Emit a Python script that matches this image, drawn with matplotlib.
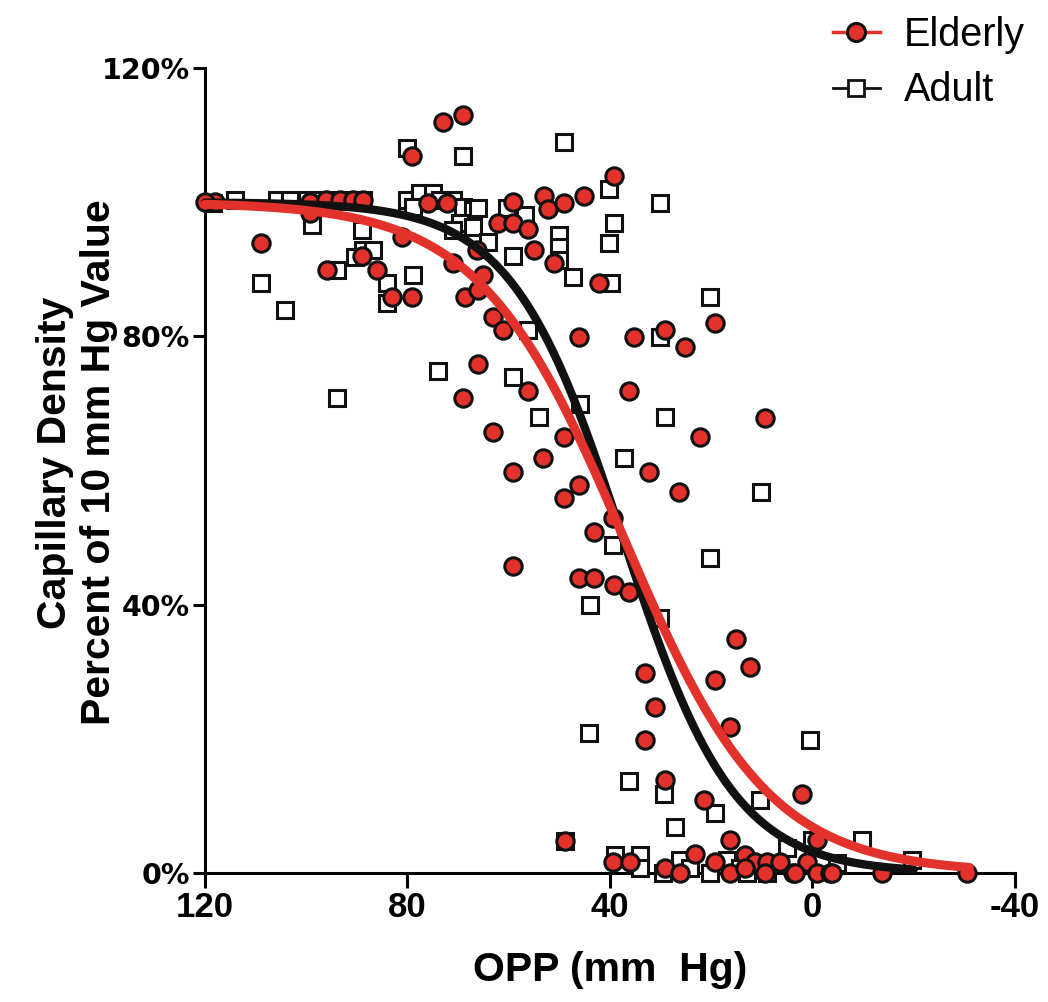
import numpy as np
import matplotlib
matplotlib.use('Agg')
import matplotlib.pyplot as plt
from matplotlib.lines import Line2D
from matplotlib.ticker import PercentFormatter

plt.rcParams['font.family'] = ['Liberation Sans', 'DejaVu Sans']
plt.rcParams['axes.unicode_minus'] = False

RED = '#e3312b'

# Elderly points: OPP (mm Hg), capillary density (% of 10 mm Hg value)
elderly_x = [73.0, 69.0, 79.1, 39.2, 53.0, 52.2, 49.1, 45.1, 59.2, 62.1, 59.2, 56.2, 55.0,
             51.1, 42.2, 66.3, 65.1, 68.6, 66.1, 63.1, 61.1, 46.1, 35.3, 29.1, 19.3, 25.2,
             108.9, 95.9, 89.0, 86.0, 83.1, 79.1, 76.0, 72.2, 118.0, 99.3, 96.0, 93.3, 90.8,
             88.8, 99.3, 81.1, 71.0, 66.1, 69.0, 63.1, 56.2, 36.2, 9.4, 49.1, 22.2, 53.2,
             59.2, 32.3, 46.1, 49.1, 26.4, 39.4, 43.2, 59.2, 46.1, 43.2, 39.2, 36.2, 15.1,
             12.3, 19.3, 33.1, 31.1, 16.3, 33.1, 29.1, 21.4, 2.1, 48.9, 16.3, 23.2, 39.4,
             36.0, 29.1, 26.2, 19.3, 16.3, 13.3, 11.4, 13.3, 9.0, 6.4, 9.4, 3.9, 1.1, -0.9,
             -3.5, -0.9, 3.5, -3.9, -13.7, -30.5, 120.0]
elderly_y = [112.0, 113.0, 106.9, 103.9, 100.9, 99.0, 99.9, 100.9, 100.0, 96.9, 96.9, 96.0, 92.9,
             90.9, 88.0, 92.9, 89.1, 85.9, 86.9, 82.9, 80.9, 79.9, 79.9, 80.9, 82.0, 78.4,
             93.9, 89.9, 92.0, 89.9, 85.9, 85.9, 99.9, 99.9, 100.0, 100.0, 100.3, 100.3, 100.3,
             100.3, 98.4, 94.8, 90.9, 75.9, 70.8, 65.7, 71.9, 71.9, 67.8, 65.0, 65.0, 61.9,
             59.8, 59.8, 57.8, 55.9, 56.8, 52.9, 50.8, 45.8, 44.0, 44.0, 42.9, 41.9, 34.9,
             30.7, 28.8, 29.8, 24.7, 21.8, 19.8, 13.9, 10.9, 11.8, 4.8, 4.9, 2.8, 1.6,
             1.6, 0.7, 0.0, 1.6, 0.0, 2.7, 1.6, 0.7, 1.6, 1.6, 0.0, 0.0, 1.6, 0.0,
             0.0, 4.9, 0.0, 0.0, 0.0, 0.0, 100.0]

# Adult points
adult_x = [80.1, 69.0, 49.1, 118.4, 114.1, 105.8, 103.2, 99.9, 97.3, 93.9, 91.4, 88.8, 98.9,
           89.0, 88.8, 86.8, 90.4, 93.9, 108.9, 104.2, 84.0, 84.0, 78.9, 80.1, 77.5, 75.0,
           73.6, 71.0, 69.0, 67.1, 78.9, 69.6, 67.1, 71.0, 40.2, 30.1, 39.2, 40.2, 50.1,
           50.1, 50.1, 47.3, 39.8, 59.2, 64.1, 66.1, 60.3, 56.8, 20.2, 30.1, 56.2, 74.0,
           93.9, 59.2, 45.9, 54.0, 29.1, 37.2, 10.2, 39.4, 20.2, 44.0, 30.1, 44.1, 0.5,
           36.2, 29.3, 19.3, 10.4, 27.2, 39.0, 34.1, 34.1, 26.2, 24.2, 20.2, 16.9, 14.3,
           12.9, 9.0, 5.0, 29.5, -9.8, -19.7, -4.8, 0.1, 48.9]
adult_y = [108.1, 106.9, 109.0, 99.9, 100.3, 100.3, 100.3, 100.3, 100.3, 100.3, 100.3, 100.3, 96.6,
           95.9, 92.9, 92.9, 91.8, 89.9, 88.0, 83.9, 88.0, 85.0, 89.1, 100.3, 101.4, 101.4,
           100.3, 100.3, 99.3, 98.8, 99.3, 96.9, 96.3, 95.9, 102.0, 99.9, 96.9, 93.9, 95.1,
           93.3, 91.4, 88.8, 88.0, 92.0, 94.1, 99.1, 99.1, 98.1, 85.9, 79.9, 80.9, 74.8,
           70.8, 73.9, 69.9, 68.0, 68.0, 61.9, 56.8, 48.9, 47.0, 40.0, 38.0, 20.9, 19.8,
           13.7, 11.8, 8.9, 10.9, 6.9, 2.7, 2.7, 0.7, 1.9, 0.7, 0.0, 1.9, 0.7,
           0.0, 0.0, 3.7, 0.0, 4.9, 1.9, 1.5, 4.9, 4.8]

# sigmoid fits: midpoint (mm Hg), slope (mm Hg), x range of the drawn curve
elderly_fit = (37.3, 14.3, 120.0, -31.0)
adult_fit = (37.5, 11.0, 120.0, -20.0)


def sigmoid(fit):
    x0, s, xa, xb = fit
    xs = np.linspace(xa, xb, 400)
    return xs, 100.0 / (1.0 + np.exp(-(xs - x0) / s))


fig = plt.figure(figsize=(10.48, 10.02), dpi=100)
ax = fig.add_axes([0.1956, 0.1287, 0.7729, 0.8034])

ax.plot(adult_x, adult_y, linestyle='none', marker='s', markersize=11.5,
        markerfacecolor='white', markeredgecolor='#111111', markeredgewidth=2.2,
        clip_on=False, zorder=3)
ax.plot(elderly_x, elderly_y, linestyle='none', marker='o', markersize=12.5,
        markerfacecolor=RED, markeredgecolor='#111111', markeredgewidth=2.2,
        clip_on=False, zorder=4)

xs, ys = sigmoid(adult_fit)
ax.plot(xs, ys, color='#111111', linewidth=6, solid_capstyle='round', zorder=5, clip_on=False)
xs, ys = sigmoid(elderly_fit)
ax.plot(xs, ys, color=RED, linewidth=6.5, solid_capstyle='round', zorder=6, clip_on=False)

ax.set_xlim(120, -40)
ax.set_ylim(0, 120)
ax.set_xticks([120, 80, 40, 0, -40])
ax.set_yticks([0, 40, 80, 120])
ax.yaxis.set_major_formatter(PercentFormatter(decimals=0))

for side in ['top', 'right']:
    ax.spines[side].set_visible(False)
for side in ['left', 'bottom']:
    ax.spines[side].set_linewidth(2.2)
ax.tick_params(axis='x', width=2.2, length=11, pad=2, direction='out')
ax.tick_params(axis='y', width=2.2, length=9, pad=2, direction='out')
for lab in ax.get_xticklabels():
    lab.set_fontweight('bold')
    lab.set_fontsize(25)
for lab in ax.get_yticklabels():
    lab.set_fontweight('bold')
    lab.set_family(['DejaVu Sans'])
    lab.set_fontsize(20.5)

ax.set_xlabel('OPP (mm  Hg)', fontsize=29.5, fontweight='bold')
ax.xaxis.set_label_coords(0.5, -0.097)
ax.set_ylabel('Capillary Density\nPercent of 10 mm Hg Value', fontsize=29.5,
              fontweight='bold', linespacing=1.2)
ax.yaxis.set_label_coords(-0.107, 0.51)

handles = [
    Line2D([], [], color=RED, linewidth=2.5, marker='o', markersize=13,
           markerfacecolor=RED, markeredgecolor='#111111', markeredgewidth=2.2),
    Line2D([], [], color='#111111', linewidth=2, marker='s', markersize=12,
           markerfacecolor='white', markeredgecolor='#111111', markeredgewidth=2),
]
fig.legend(handles, ['Elderly', 'Adult'], loc='upper right', bbox_to_anchor=(1.012, 1.02),
           frameon=False, fontsize=28.5, handlelength=1.2, handletextpad=0.6,
           labelspacing=0.45)

fig.savefig('out.png', dpi=100)
